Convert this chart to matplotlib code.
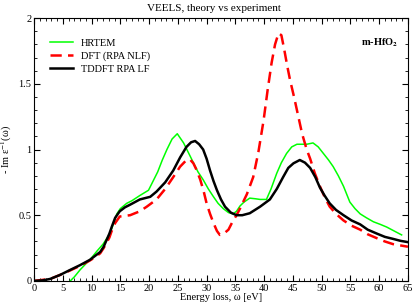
import numpy as np
import matplotlib.pyplot as plt
from matplotlib.ticker import MultipleLocator

plt.rcParams['font.family'] = ['Liberation Serif', 'DejaVu Serif']
plt.rcParams['mathtext.fontset'] = 'stix'

# HRTEM experiment
hr_e = [6.3, 7, 8, 9, 9.7, 11, 12, 13.2, 14.4, 15, 16.1, 17, 18.4, 19.9, 20.7, 21.5, 22.3,
        23.1, 24, 24.9, 26, 27.7, 28.5, 29.4, 30.3, 31.2, 32, 32.9, 33.8, 34.6, 35.2, 35.8,
        36.5, 37.5, 38.5, 39.3, 40.4, 41.2, 42.2, 43, 43.9, 44.8, 45.7, 46.5, 47.4, 48.5,
        49.4, 50.3, 51.2, 52, 52.9, 53.8, 54.9, 55.8, 56.7, 57.8, 59, 60.2, 61.3, 62.6, 63.9]
hr_v = [0.0, 0.03, 0.084, 0.13, 0.16, 0.23, 0.28, 0.36, 0.51, 0.55, 0.59, 0.61, 0.65, 0.69,
        0.76, 0.83, 0.92, 1.0, 1.08, 1.12, 1.05, 0.90, 0.83, 0.77, 0.70, 0.64, 0.59, 0.55,
        0.52, 0.51, 0.53, 0.57, 0.60, 0.63, 0.625, 0.62, 0.62, 0.70, 0.82, 0.90, 0.97, 1.02,
        1.04, 1.04, 1.04, 1.05, 1.02, 0.97, 0.92, 0.87, 0.80, 0.72, 0.60, 0.55, 0.51, 0.48,
        0.45, 0.43, 0.41, 0.38, 0.35]

# DFT (RPA NLF)
dft_e = [0, 2.8, 4.5, 6.3, 8, 9.7, 10.6, 11.5, 12.1, 12.6, 13.1, 13.5, 14.1, 14.9, 16.7,
         18.4, 19.6, 21.3, 22.8, 24.2, 25.4, 26.5, 27.1, 27.7, 28.3, 28.9, 29.5, 30, 30.6,
         31.2, 31.8, 32.3, 33, 33.8, 34.5, 35.2, 35.8, 37, 38.1, 39, 39.9, 40.6, 41.3, 41.9,
         42.5, 43, 43.5, 44, 44.5, 45.2, 45.9, 46.6, 47.4, 48, 48.8, 49.7, 50.5, 51.4, 52.5,
         53.8, 55.2, 56.7, 58, 59.6, 61, 62.4, 63.7, 65]
dft_v = [0.0, 0.015, 0.045, 0.08, 0.115, 0.155, 0.18, 0.21, 0.25, 0.29, 0.33, 0.38, 0.44,
         0.49, 0.50, 0.53, 0.565, 0.62, 0.70, 0.79, 0.87, 0.92, 0.925, 0.895, 0.84, 0.77,
         0.68, 0.59, 0.51, 0.44, 0.38, 0.35, 0.36, 0.39, 0.45, 0.50, 0.55, 0.66, 0.79, 0.98,
         1.22, 1.45, 1.66, 1.80, 1.885, 1.87, 1.76, 1.64, 1.53, 1.40, 1.26, 1.12, 1.00, 0.93,
         0.82, 0.72, 0.64, 0.565, 0.51, 0.46, 0.42, 0.39, 0.355, 0.325, 0.30, 0.28, 0.27, 0.26]

# TDDFT RPA LF
td_e = [0, 1.5, 2.8, 4.5, 6.3, 8, 9.7, 10.6, 11.5, 12.1, 12.6, 13.1, 13.5, 14.1, 14.9,
        15.8, 16.7, 18.4, 20.2, 21.3, 22.8, 24.2, 25.4, 26.5, 27.3, 28, 28.7, 29.4, 30,
        30.6, 31.2, 31.8, 32.5, 33.2, 34.2, 35.2, 36.2, 37.5, 39.3, 41, 42.2, 43.3, 44.2,
        45.1, 46.2, 47.1, 48, 48.9, 49.7, 50.5, 51.4, 52.5, 53.8, 55.2, 56.7, 58, 59.6, 61,
        62.4, 63.7, 65]
td_v = [0.0, 0.004, 0.015, 0.045, 0.084, 0.12, 0.16, 0.19, 0.22, 0.26, 0.31, 0.36, 0.41,
        0.48, 0.53, 0.56, 0.58, 0.62, 0.64, 0.68, 0.75, 0.84, 0.94, 1.02, 1.055, 1.065, 1.04,
        1.0, 0.93, 0.84, 0.76, 0.69, 0.62, 0.565, 0.52, 0.50, 0.50, 0.515, 0.565, 0.62, 0.70,
        0.79, 0.86, 0.895, 0.92, 0.90, 0.86, 0.79, 0.71, 0.65, 0.59, 0.54, 0.50, 0.46, 0.43,
        0.39, 0.36, 0.335, 0.32, 0.305, 0.295]

fig = plt.figure(figsize=(4.15, 3.07), dpi=100)
ax = fig.add_axes([0.082, 0.085, 0.901, 0.856])

ax.plot(hr_e, hr_v, color='#00ff00', lw=1.1, label='HRTEM')
ax.plot(dft_e, dft_v, color='red', lw=1.8, ls=(0, (4.5, 2.5)), label='DFT (RPA NLF)')
ax.plot(td_e, td_v, color='black', lw=1.8, label='TDDFT RPA LF')

ax.set_xlim(0, 65)
ax.set_ylim(0, 2)
ax.xaxis.set_major_locator(MultipleLocator(5))
ax.xaxis.set_minor_locator(MultipleLocator(1))
ax.yaxis.set_major_locator(MultipleLocator(0.5))
ax.yaxis.set_minor_locator(MultipleLocator(0.1))
ax.tick_params(which='both', direction='in', top=True, right=True, labelsize=7.5, pad=2)
ax.tick_params(which='major', length=4)
ax.tick_params(which='minor', length=2)
ax.yaxis.set_major_formatter(plt.FuncFormatter(lambda v, p: '%g' % v))

ax.set_title('VEELS, theory vs experiment', fontsize=8, pad=5, x=0.48)
ax.set_xlabel('Energy loss, ω [eV]', fontsize=7.5, labelpad=0)
ax.set_ylabel(r'- Im ε$^{-1}$(ω)', fontsize=7.5, labelpad=3)

ax.legend(loc='upper left', bbox_to_anchor=(0.02, 0.955), frameon=False, fontsize=7.5,
          handlelength=2.2, labelspacing=0.35, borderpad=0.3)
ax.text(0.975, 0.905, r'm-HfO$_\mathbf{2}$', transform=ax.transAxes, ha='right', va='center',
        fontsize=7.5, fontweight='bold')

fig.savefig('out.png', dpi=100)
